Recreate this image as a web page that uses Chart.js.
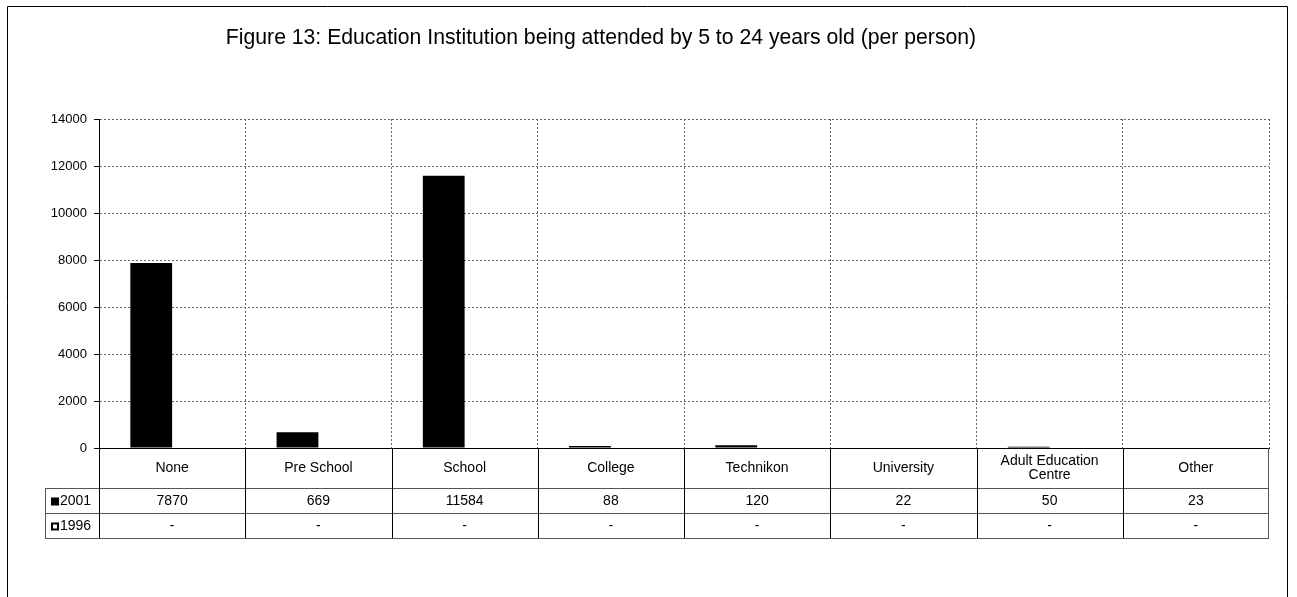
<!DOCTYPE html>
<html>
<head>
<meta charset="utf-8">
<script src="https://cdn.jsdelivr.net/npm/chart.js@4/dist/chart.umd.min.js"></script>
<style>
  html, body { margin: 0; padding: 0; background: #fff; }
  #wrap { width: 1297px; height: 597px; position: relative; }
</style>
</head>
<body>
<div id="wrap"><canvas id="c" width="1297" height="597"></canvas></div>
<script>
// Figure data
const titleText = 'Figure 13: Education Institution being attended by 5 to 24 years old (per person)';
const categories = ['None', 'Pre School', 'School', 'College', 'Technikon', 'University', ['Adult Education', 'Centre'], 'Other'];
const values2001 = [7870, 669, 11584, 88, 120, 22, 50, 23];
const values1996 = [null, null, null, null, null, null, null, null];
const seriesNames = ['2001', '1996'];
const yTicks = [0, 2000, 4000, 6000, 8000, 10000, 12000, 14000];

const FONT = '"Liberation Sans", Arial, sans-serif';

// Draws the outer frame, the title and the data table under the plot
const tablePlugin = {
  id: 'dataTable',
  afterDraw(chart) {
    const ctx = chart.ctx;
    const x = chart.scales.x;
    const area = chart.chartArea;
    const left = area.left, right = area.right;
    const rowCat = area.bottom + 40;
    const row1 = rowCat + 25;
    const row2 = row1 + 25;
    const legLeft = 45;
    ctx.save();

    // frame
    ctx.strokeStyle = '#000';
    ctx.lineWidth = 1;
    ctx.beginPath();
    ctx.moveTo(7.5, 600);
    ctx.lineTo(7.5, 6.5);
    ctx.lineTo(1287.5, 6.5);
    ctx.lineTo(1287.5, 600);
    ctx.stroke();

    // title
    ctx.fillStyle = '#000';
    ctx.font = '21.2px ' + FONT;
    ctx.textAlign = 'center';
    ctx.textBaseline = 'alphabetic';
    ctx.fillText(titleText, 601, 44);

    // table horizontal rules
    ctx.strokeStyle = '#555';
    ctx.beginPath();
    [rowCat, row1, row2].forEach(y => {
      ctx.moveTo(legLeft, Math.round(y) + 0.5);
      ctx.lineTo(right, Math.round(y) + 0.5);
    });
    ctx.moveTo(legLeft + 0.5, rowCat);
    ctx.lineTo(legLeft + 0.5, row2);
    ctx.moveTo(Math.round(right) - 0.5, area.bottom);
    ctx.lineTo(Math.round(right) - 0.5, row2);
    ctx.stroke();

    // table vertical rules at category boundaries
    ctx.strokeStyle = '#000';
    ctx.beginPath();
    const n = categories.length;
    const step = (right - left) / n;
    for (let i = 0; i <= n - 1; i++) {
      const xb = Math.round(left + step * i) + 0.5;
      ctx.moveTo(xb, area.bottom);
      ctx.lineTo(xb, row2);
    }
    ctx.stroke();

    // category labels and values
    ctx.font = '14px ' + FONT;
    ctx.textAlign = 'center';
    ctx.textBaseline = 'middle';
    const catMid = (area.bottom + rowCat) / 2;
    categories.forEach((c, i) => {
      const cx = x.getPixelForValue(i);
      const lines = Array.isArray(c) ? c : [c];
      const lh = 14;
      lines.forEach((ln, k) => {
        ctx.fillText(ln, cx, catMid + (k - (lines.length - 1) / 2) * lh);
      });
      const v1 = values2001[i];
      const v2 = values1996[i];
      ctx.fillText(v1 == null ? '-' : String(v1), cx, (rowCat + row1) / 2 + 1);
      ctx.fillText(v2 == null ? '-' : String(v2), cx, (row1 + row2) / 2 + 1);
    });

    // legend keys
    ctx.textAlign = 'left';
    ctx.fillStyle = '#000';
    ctx.fillRect(51, (rowCat + row1) / 2 - 3, 8, 8);
    ctx.fillText(seriesNames[0], 60, (rowCat + row1) / 2 + 1);
    ctx.lineWidth = 2;
    ctx.strokeRect(52, (row1 + row2) / 2 - 2, 6, 6);
    ctx.fillText(seriesNames[1], 60, (row1 + row2) / 2 + 1);
    ctx.restore();
  }
};

new Chart(document.getElementById('c'), {
  type: 'bar',
  data: {
    labels: categories,
    datasets: [
      {
        label: seriesNames[0],
        data: values2001,
        backgroundColor: '#000',
        borderColor: '#000',
        borderWidth: 0,
        categoryPercentage: 2 / 3.5,
        barPercentage: 1
      },
      {
        label: seriesNames[1],
        data: values1996,
        backgroundColor: '#fff',
        borderColor: '#000',
        borderWidth: 1,
        categoryPercentage: 2 / 3.5,
        barPercentage: 1
      }
    ]
  },
  options: {
    responsive: false,
    animation: false,
    devicePixelRatio: 1,
    layout: { padding: { left: 0, top: 119, right: 28, bottom: 109 } },
    plugins: {
      legend: { display: false },
      title: { display: false },
      tooltip: { enabled: false }
    },
    scales: {
      x: {
        type: 'category',
        offset: true,
        ticks: { display: false },
        grid: {
          offset: true,
          color: '#666',
          lineWidth: 1,
          tickLength: 0,
          drawTicks: false
        },
        border: { display: true, color: '#000', dash: [2, 2] },
        afterFit(scale) { scale.height = 40; }
      },
      y: {
        min: 0,
        max: 14000,
        afterBuildTicks(scale) { scale.ticks = yTicks.map(v => ({ value: v })); },
        ticks: {
          color: '#000',
          font: { family: FONT, size: 13 },
          padding: 7,
          callback: (v) => String(v)
        },
        grid: {
          color: '#666',
          tickColor: '#000',
          tickLength: 5,
          tickBorderDash: [],
          lineWidth: 1
        },
        border: { display: true, color: '#000', width: 1, dash: [2, 2] },
        afterFit(scale) { scale.width = 99; }
      }
    }
  },
  plugins: [tablePlugin]
});
</script>
</body>
</html>
